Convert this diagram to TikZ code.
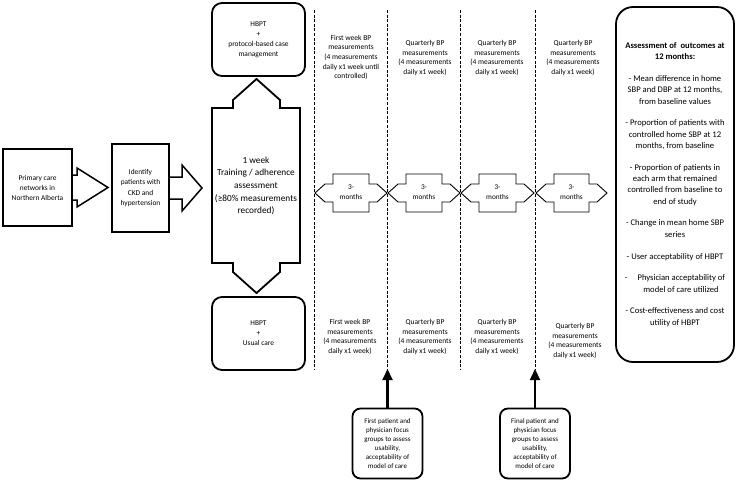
\documentclass[tikz,border=0pt]{standalone}
\usepackage{fontspec}
\setmainfont{Carlito}
\usetikzlibrary{arrows.meta}
\begin{document}
\begin{tikzpicture}[x=1pt,y=-1pt,
  sqbox/.style={draw, line width=1.8pt, align=center, inner sep=1pt, font=\fontsize{7.4}{10}\selectfont},
  rbox/.style={draw, line width=1.8pt, rounded corners=10pt, align=center, inner sep=1pt, font=\fontsize{7.4}{10}\selectfont},
  blockarrow/.style={line width=1.5pt, line join=miter},
  monarrow/.style={draw, fill=white, line width=0.9pt, line join=miter},
  montext/.style={align=center, inner sep=0pt, font=\fontsize{7.3}{10.5}\selectfont},
  sep/.style={line width=0.9pt, dash pattern=on 3pt off 1.6pt},
  coltext/.style={align=center, font=\fontsize{7.5}{9.7}\selectfont, inner sep=0pt},
  pointer/.style={line width=2.2pt, -{Triangle[length=11pt,width=10pt]}}
]
\useasboundingbox (0,0) rectangle (736,483);

% left boxes and block arrows
\node[sqbox, minimum width=69pt, minimum height=77pt] (b1) at (37.5,187.5) {Primary care\\networks in\\Northern Alberta};
\draw[blockarrow] (72,175) -- (77,175) -- (77,168) -- (108,187.5) -- (77,207) -- (77,200) -- (72,200);
\node[sqbox, minimum width=57pt, minimum height=88pt, font=\fontsize{7.4}{10.5}\selectfont] (b2) at (140.5,188) {Identify\\patients with\\CKD and\\hypertension};
\draw[blockarrow] (169,177) -- (182,177) -- (182,165) -- (202,188) -- (182,211) -- (182,199) -- (169,199);

% central double arrow
\draw[line width=1.8pt, line join=miter] (212,108) -- (233,108) -- (233,100) -- (256.5,79) -- (280,100) -- (280,108) -- (300,108) -- (300,263) -- (280,263) -- (280,272) -- (256.5,293) -- (233,272) -- (233,263) -- (212,263) -- cycle;
\node[align=center, inner sep=0pt, font=\fontsize{9.3}{12.7}\selectfont] (mid) at (256,186) {1 week\\Training / adherence\\assessment\\(≥80\% measurements\\recorded)};

% arm boxes
\node[rbox, minimum width=93pt, minimum height=73pt] (tb) at (258.5,39.5) {HBPT\\+\\protocol-based case\\management};
\node[rbox, minimum width=93pt, minimum height=73pt] (bb) at (258.5,333.5) {HBPT\\+\\Usual care};

% dashed separators
\foreach \x/\n in {314/1,387/2,460/3,535/4}{
  \coordinate (d\n t) at (\x,10);
  \coordinate (d\n b) at (\x,369);
  \draw[sep] (d\n t) -- (d\n b);
}

% 3-months arrows
\foreach \L/\R/\n in {315/387/1,388/460/2,461/534/3,536/607/4}{
  \draw[monarrow] (\L,193) -- (\L+10,184) -- (\L+18,184) -- (\L+18,174) -- (\R-18,174) -- (\R-18,184) -- (\R-10,184) -- (\R,193) -- (\R-10,202) -- (\R-18,202) -- (\R-18,212) -- (\L+18,212) -- (\L+18,202) -- (\L+10,202) -- cycle;
  \node[montext] (m\n) at ({(\L+\R)/2},192) {3-\\months};
}

% column texts
\node[coltext] (c1t) at (351,57.5) {First week BP\\measurements\\(4 measurements\\daily x1 week until\\controlled)};
\node[coltext] (c2t) at (425,58) {Quarterly BP\\measurements\\(4 measurements\\daily x1 week)};
\node[coltext] (c3t) at (497,58) {Quarterly BP\\measurements\\(4 measurements\\daily x1 week)};
\node[coltext] (c4t) at (573,58) {Quarterly BP\\measurements\\(4 measurements\\daily x1 week)};
\node[coltext] (c1b) at (350,337) {First week BP\\measurements\\(4 measurements\\daily x1 week)};
\node[coltext] (c2b) at (425,337) {Quarterly BP\\measurements\\(4 measurements\\daily x1 week)};
\node[coltext] (c3b) at (497,337) {Quarterly BP\\measurements\\(4 measurements\\daily x1 week)};
\node[coltext] (c4b) at (575,341) {Quarterly BP\\measurements\\(4 measurements\\daily x1 week)};

% focus group boxes
\node[rbox, rounded corners=8pt, minimum width=70pt, minimum height=70pt, font=\fontsize{7}{9}\selectfont] (f1) at (387.5,443.5) {First patient and\\physician focus\\groups to assess\\usability,\\acceptability of\\model of care};
\node[rbox, rounded corners=8pt, minimum width=70pt, minimum height=70pt, font=\fontsize{7}{9}\selectfont] (f2) at (535,443.5) {Final patient and\\physician focus\\groups to assess\\usability,\\acceptability of\\model of care};
\draw[pointer] (f1.north) -- (f1.north |- d2b);
\draw[pointer] (f2.north) -- (f2.north |- d4b);

% outcomes box
\node[draw, line width=1.8pt, rounded corners=17pt, minimum width=118pt, minimum height=355pt, align=center, inner sep=0pt, font=\fontsize{8.6}{11.3}\selectfont] (out) at (675,184.5) {\textbf{Assessment of\ \ outcomes at}\\\textbf{12 months:}\\[10.5pt]
- Mean difference in home\\SBP and DBP at 12 months,\\from baseline values\\[10.5pt]
- Proportion of patients with\\controlled home SBP at 12\\months, from baseline\\[10.5pt]
- Proportion of patients in\\each arm that remained\\controlled from baseline to\\end of study\\[10.5pt]
- Change in mean home SBP\\series\\[10.5pt]
- User acceptability of HBPT\\[10.5pt]
-\hspace{10pt}Physician acceptability of\\\hspace*{12pt}model of care utilized\\[10.5pt]
- Cost-effectiveness and cost\\utility of HBPT};
\end{tikzpicture}
\end{document}
